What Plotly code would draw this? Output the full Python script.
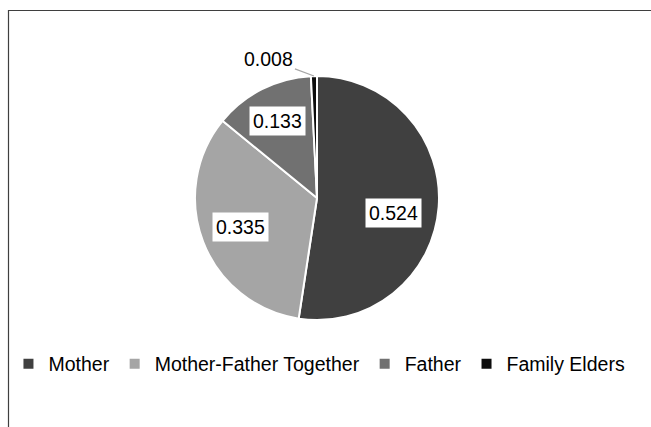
import math
import plotly.graph_objects as go

# ---- data ----
categories = ["Mother", "Mother-Father Together", "Father", "Family Elders"]
values = [0.524, 0.335, 0.133, 0.008]
value_labels = ["0.524", "0.335", "0.133", "0.008"]

# ---- style ----
colors = ["#404040", "#a5a5a5", "#717171", "#0d0d0d"]
W, H = 651, 427
CX, CY, R = 317, 198, 122          # pie centre / radius in pixels (from top-left)
label_radius = [0.64, 0.67, 0.71, 1.0]
label_nudge_deg = [7, 0, 0, 0]
FONT = "Liberation Sans, Arial, sans-serif"

dom_x = [(CX - R) / W, (CX + R) / W]
dom_y = [(H - CY - R) / H, (H - CY + R) / H]

fig = go.Figure(
    go.Pie(
        labels=categories,
        values=values,
        sort=False,
        direction="clockwise",
        rotation=0,
        marker=dict(colors=colors, line=dict(color="white", width=2)),
        textinfo="none",
        hoverinfo="label+value",
        domain=dict(x=dom_x, y=dom_y),
    )
)

total = sum(values)
cum = 0.0
annotations = []
for i, (v, txt) in enumerate(zip(values, value_labels)):
    mid = (cum + v / 2) / total * 2 * math.pi + math.radians(label_nudge_deg[i])
    cum += v
    f = label_radius[i]
    px = CX + R * f * math.sin(mid)
    py = CY - R * f * math.cos(mid)
    xp, yp = px / W, (H - py) / H
    if i < 3:
        annotations.append(dict(
            x=xp, y=yp, xref="paper", yref="paper", text=txt, showarrow=False,
            xanchor="center", yanchor="middle",
            font=dict(family=FONT, size=19.5, color="#000000"),
            bgcolor="white", borderpad=3,
        ))
    else:
        annotations.append(dict(
            x=xp, y=yp, xref="paper", yref="paper", text=txt, showarrow=True,
            ax=-45, ay=-17, arrowhead=0, arrowwidth=1.2, arrowcolor="#a6a6a6",
            standoff=0,
            font=dict(family=FONT, size=19.5, color="#000000"),
        ))

fig.update_layout(
    width=W, height=H,
    margin=dict(l=0, r=0, t=0, b=0),
    paper_bgcolor="white",
    plot_bgcolor="white",
    font=dict(family=FONT, color="#000000"),
    showlegend=True,
    legend=dict(
        orientation="h", x=0.013, xanchor="left", y=(H - 364) / H, yanchor="middle",
        font=dict(family=FONT, size=19.5, color="#000000"),
        bgcolor="rgba(0,0,0,0)", itemclick=False,
    ),
    annotations=annotations,
    shapes=[dict(
        type="rect", xref="paper", yref="paper",
        x0=8.5 / W, y0=1 - 10.5 / H, x1=1.05, y1=-0.05,
        line=dict(color="#3f3f3f", width=1.2), fillcolor="rgba(0,0,0,0)", layer="below",
    )],
)

fig.write_html(
    "out.html",
    config={"displayModeBar": False},
    post_script="document.body.style.margin='0';",
)
